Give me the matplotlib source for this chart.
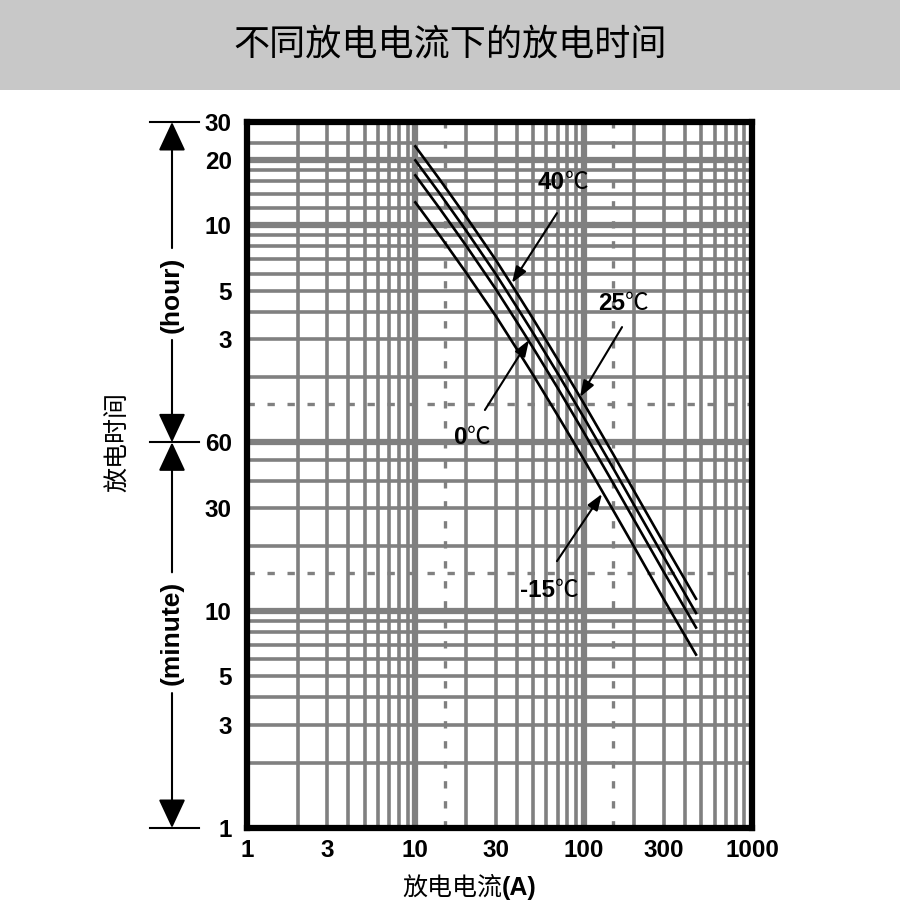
import matplotlib
matplotlib.use("Agg")
import matplotlib.pyplot as plt
import matplotlib.patches as mpatches

plt.rcParams['font.family'] = ['Liberation Sans', 'Noto Sans CJK SC', 'DejaVu Sans']

# ---- data (discharge current in A, discharge time in minutes) ----
current_a = [10, 14, 20, 30, 40, 50, 70, 100, 150, 200, 300, 465]
t_40c  = [1390, 974, 660, 417, 294, 223, 145, 91, 52.8, 35.6, 20.5, 11.4]
t_25c  = [1198, 840, 569, 359, 253, 192, 125, 78.4, 45.5, 30.7, 17.7, 9.8]
t_0c   = [1022, 716, 485, 306, 216, 164, 107, 66.9, 38.8, 26.2, 15.1, 8.4]
t_m15c = [767, 538, 364, 230, 162, 123, 80, 50.2, 29.1, 19.7, 11.3, 6.3]
curve_names = ["40", "25", "0", "-15"]

# label junction (number | ℃), arrow tail, arrow head  -- in (A, min)
label_pos  = [(77.5, 951), (176, 261), (20.3, 63.5), (67.6, 12.5)]
arrow_tail = [(69.4, 684), (169, 204), (25.9, 84.6), (69.4, 17.0)]
arrow_head = [(37.5, 326), (95.1, 97.1), (47.4, 178), (128.5, 34.7)]

xtick_pos = [1, 3, 10, 30, 100, 300, 1000]
xtick_labels = ["1", "3", "10", "30", "100", "300", "1000"]
ytick_pos = [1, 3, 5, 10, 30, 60, 180, 300, 600, 1200, 1800]
ytick_labels = ["1", "3", "5", "10", "30", "60", "3", "5", "10", "20", "30"]

x_grid = [2, 3, 4, 5, 6, 7, 8, 9, 20, 30, 40, 50, 60, 70, 80, 90,
          200, 300, 400, 500, 600, 700, 800, 900]
x_grid_thick = [10, 100]
x_grid_dash = [15, 150]
y_grid = [2, 3, 4, 5, 6, 7, 8, 9, 20, 30, 40, 50,
          120, 180, 240, 300, 360, 420, 480, 540, 720, 840, 960, 1080, 1440]
y_grid_thick = [10, 60, 600, 1200]
y_grid_dash = [15, 90]

GRID = "#808080"

fig = plt.figure(figsize=(9, 9.15), dpi=100)
fig.patch.set_facecolor("white")

# title banner
fig.patches.append(mpatches.Rectangle((0, 1 - 90 / 915), 1, 90 / 915,
                                      transform=fig.transFigure,
                                      facecolor="#c8c8c8", edgecolor="none", zorder=0))
fig.text(0.5, 1 - 45 / 915, "不同放电电流下的放电时间", ha="center", va="center",
         fontsize=26, family=["Noto Sans CJK SC"], color="black")

ax = fig.add_axes([247 / 900, 1 - 828 / 915, 505 / 900, 706 / 915])
ax.set_xscale("log")
ax.set_yscale("log")
ax.set_xlim(1, 1000)
ax.set_ylim(1, 1800)

# --- grid ---
for v in x_grid:
    ax.axvline(v, color=GRID, lw=2.6, zorder=1)
for v in x_grid_thick:
    ax.axvline(v, color=GRID, lw=4.5, zorder=1)
for v in x_grid_dash:
    ax.axvline(v, color=GRID, lw=2.4, ls=(0, (2.2, 3.8)), zorder=1)
for v in y_grid:
    ax.axhline(v, color=GRID, lw=2.6, zorder=1)
for v in y_grid_thick:
    ax.axhline(v, color=GRID, lw=4.5, zorder=1)
for v in y_grid_dash:
    ax.axhline(v, color=GRID, lw=2.4, ls=(0, (2.2, 3.8)), zorder=1)

# --- curves ---
for series in [t_40c, t_25c, t_0c, t_m15c]:
    ax.plot(current_a, series, color="black", lw=1.9, zorder=3)

for name, lp, tail, head in zip(curve_names, label_pos, arrow_tail, arrow_head):
    ax.text(lp[0], lp[1], name, ha="right", va="center", fontsize=17.5,
            fontweight="bold", zorder=4)
    ax.text(lp[0], lp[1], "℃", ha="left", va="center", fontsize=17,
            family=["Noto Sans CJK SC"], zorder=4)
    ax.annotate("", xy=head, xytext=tail,
                arrowprops=dict(arrowstyle="-|>,head_length=0.7,head_width=0.25",
                                color="black", lw=1.5, shrinkA=0, shrinkB=0,
                                mutation_scale=14),
                zorder=4)

# --- axes styling ---
for s in ax.spines.values():
    s.set_linewidth(4.5)
    s.set_color("black")
    s.set_zorder(5)

ax.minorticks_off()
ax.set_xticks(xtick_pos)
ax.set_xticklabels(xtick_labels)
ax.set_yticks(ytick_pos)
ax.set_yticklabels(ytick_labels)
ax.tick_params(length=0, labelsize=17.5)
ax.tick_params(axis="y", pad=11)
ax.tick_params(axis="x", pad=8)
for lab in ax.get_xticklabels() + ax.get_yticklabels():
    lab.set_fontweight("bold")

# --- left side hour / minute arrows ---
trans = ax.get_yaxis_transform()
xa = (172 - 247) / 505
xl0, xl1 = (150 - 247) / 505, (199 - 247) / 505
arrow_kw = dict(arrowstyle="-|>,head_length=0.9,head_width=0.42", color="black",
                lw=1.5, shrinkA=0, shrinkB=0, mutation_scale=20)

for yv in [1800, 60, 1]:
    ax.plot([xl0, xl1], [yv, yv], color="black", lw=1.5, transform=trans, clip_on=False)

for start, end in [(472, 1800), (178, 60), (15.1, 60), (4.19, 1)]:
    ax.annotate("", xy=(xa, end), xytext=(xa, start), xycoords=trans, textcoords=trans,
                arrowprops=arrow_kw, annotation_clip=False)

ax.text(xa, 287, "(hour)", rotation=90, ha="center", va="center", fontsize=19,
        fontweight="bold", transform=trans)
ax.text(xa, 7.93, "(minute)", rotation=90, ha="center", va="center", fontsize=19,
        fontweight="bold", transform=trans)

# axis titles
fig.text(118 / 900, 1 - 442 / 915, "放电时间", rotation=90, ha="center", va="center",
         fontsize=18, family=["Noto Sans CJK SC"])
fig.text(502 / 900, 1 - 888 / 915, "放电电流", ha="right", va="center",
         fontsize=18, family=["Noto Sans CJK SC"])
fig.text(502 / 900, 1 - 888 / 915, "(A)", ha="left", va="center",
         fontsize=18, fontweight="bold")

fig.savefig("out.png", dpi=100)
